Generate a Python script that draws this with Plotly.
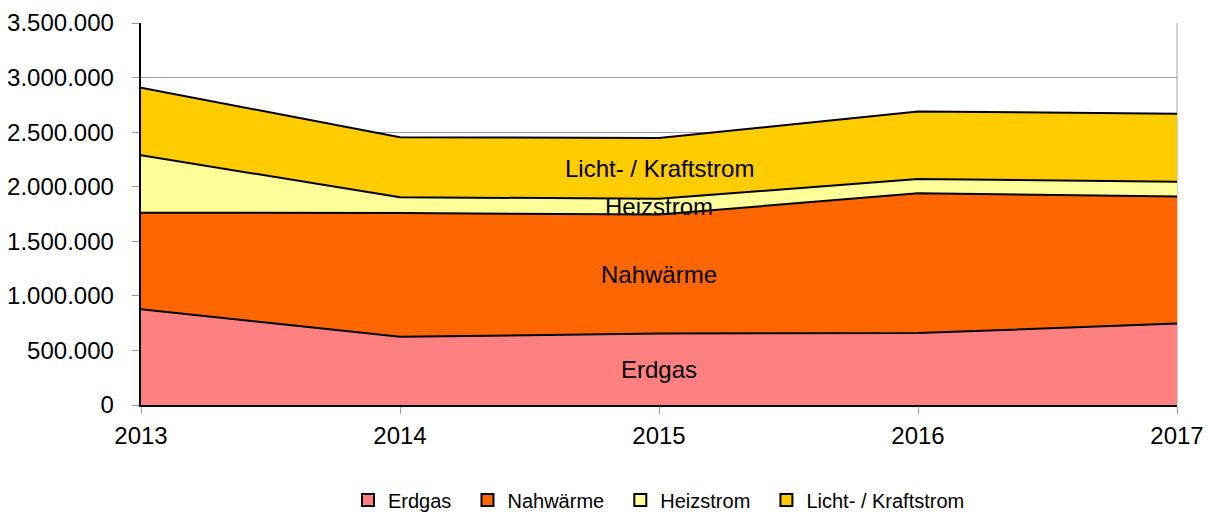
import plotly.graph_objects as go

# Jahreswerte (kWh)
years = [2013, 2014, 2015, 2016, 2017]
erdgas = [877000, 625000, 655000, 659000, 746000]
nahwaerme = [885000, 1134000, 1090000, 1281000, 1164000]
heizstrom = [526000, 145000, 144000, 130000, 136000]
licht_kraft = [619000, 550000, 557000, 620000, 622000]

names = ["Erdgas", "Nahwärme", "Heizstrom", "Licht- / Kraftstrom"]
colors = ["#FF8080", "#FF6600", "#FFFF99", "#FFCC00"]
series = [erdgas, nahwaerme, heizstrom, licht_kraft]

fig = go.Figure()
for name, vals, col in zip(names, series, colors):
    fig.add_trace(go.Scatter(
        x=years, y=vals, name=name, mode="lines",
        stackgroup="one", fillcolor=col,
        line=dict(color="black", width=2),
        showlegend=False,
    ))
# legend entries as little squares (like the original), a bit more spacing
for i, (name, col) in enumerate(zip(names, colors)):
    pad = "\u00a0\u00a0" if i < len(names) - 1 else ""
    fig.add_trace(go.Scatter(
        x=[None], y=[None], name=name + pad, mode="markers",
        marker=dict(symbol="square", size=12, color=col,
                    line=dict(color="black", width=2)),
    ))

# labels in the middle of each band at 2015
label_year = 2015
idx = years.index(label_year)
base = 0
for name, vals in zip(names, series):
    mid = base + vals[idx] / 2
    base += vals[idx]
    fig.add_annotation(x=label_year, y=mid, text=name, showarrow=False,
                       font=dict(size=24, color="black"))

# grey frame line on the right of the plot area
fig.add_shape(type="line", xref="paper", yref="paper", x0=1, x1=1, y0=0, y1=1,
              line=dict(color="#A0A0A0", width=1), layer="below")

# page body adds 8px offset -> figure a bit smaller
fig.update_layout(
    width=1208, height=507,
    margin=dict(l=133, r=39, t=15, b=110, autoexpand=False),
    paper_bgcolor="white", plot_bgcolor="white",
    separators=",.",
    font=dict(family="Liberation Sans, Arial, sans-serif", color="black"),
    showlegend=True,
    legend=dict(orientation="h", x=0.5, xanchor="center", y=-0.249, yanchor="middle",
                font=dict(size=20), traceorder="normal", itemwidth=30),
)
fig.update_xaxes(
    range=[2013, 2017], tickvals=years, ticktext=[str(y) for y in years],
    showgrid=False, showline=True, linecolor="black", linewidth=2,
    ticks="outside", tickcolor="#999999", ticklen=7, tickfont=dict(size=24),
    ticklabelstandoff=1, zeroline=False,
)
fig.update_yaxes(
    range=[0, 3500000], dtick=500000, tickformat=",d", ticksuffix="\u00a0\u00a0",
    showgrid=True, gridcolor="#A0A0A0", gridwidth=1,
    showline=True, linecolor="black", linewidth=2,
    ticks="outside", tickcolor="#999999", ticklen=7, tickfont=dict(size=24),
    zeroline=False,
)

fig.write_html("out.html")
